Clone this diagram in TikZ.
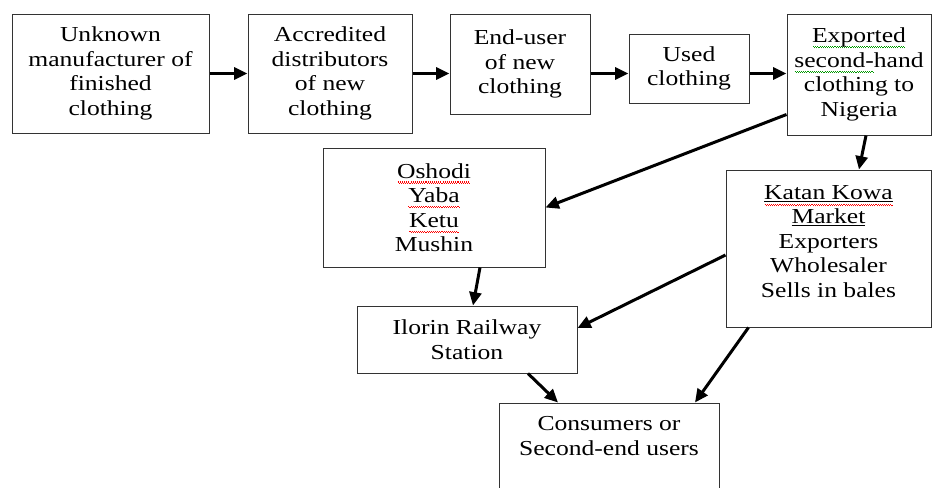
\documentclass[tikz,border=0pt]{standalone}
\usepackage{fontspec}
\setmainfont[FakeStretch=1.2]{Liberation Serif}
\usetikzlibrary{arrows.meta}

\newcommand\wavepiece{\vrule height -2.6pt depth 3.4pt width 0.8pt\vrule height -3.4pt depth 4.2pt width 0.8pt}
\newcommand\wavemark[2]{\leavevmode\setbox0\hbox{#2}\rlap{\hbox to \wd0{\color{#1}\cleaders\hbox{\wavepiece}\hfil}}\box0}
\newcommand\katanmark[1]{\leavevmode\setbox0\hbox{#1}\rlap{\vrule height -1.1pt depth 1.8pt width \wd0}\rlap{\lower1.2pt\hbox to \wd0{\color{red}\cleaders\hbox{\wavepiece}\hfil}}\box0}

\begin{document}
\begin{tikzpicture}
    [
        x=0.75pt, y=-0.75pt,
        box_node/.style={rectangle, draw=black!80, line width=0.75pt, fill=white, align=center, inner sep=2pt, font=\fontsize{16}{18.4}\selectfont},
        box_text/.style={align=center, inner sep=2pt, font=\fontsize{16}{18.4}\selectfont},
        flow_arrow/.style={-{Triangle[length=10pt, width=9pt]}, line width=2.25pt, color=black},
    ]
        \useasboundingbox (0,0) rectangle (933,487) ;
        \clip (0,0) rectangle (933,487) ;
        % top row
        \node[box_node, minimum width=147.75pt, minimum height=89.25pt] (manuf) at (110.5,73.5) {Unknown\\manufacturer of\\finished\\clothing} ;
        \node[box_node, minimum width=123pt, minimum height=89.25pt] (distrib) at (330,73.5) {Accredited\\distributors\\of new\\clothing} ;
        \node[box_node, minimum width=105pt, minimum height=75pt] (enduser) at (520,64) {End-user\\of new\\clothing} ;
        \node[box_node, minimum width=90pt, minimum height=51.75pt] (used) at (689,68.5) {Used\\clothing} ;
        \node[box_node, minimum width=108pt, minimum height=90.75pt] (exported) at (859,74.5) {\wavemark{green!60!black}{Exported}\\\wavemark{green!60!black}{second-}hand\\clothing to\\Nigeria} ;
        % markets in Nigeria
        \node[box_node, minimum width=166.5pt, minimum height=89.25pt] (lagos) at (434,207.5) {\wavemark{red}{Oshodi}\\\wavemark{red}{Yaba}\\\wavemark{red}{Ketu}\\Mushin} ;
        \node[box_node, minimum width=153.75pt, minimum height=117.75pt] (katan) at (828.5,248.5) {} ;
        \node[box_text, anchor=north] (katan_text) at ([yshift=-9.5pt]katan.north) {\katanmark{Katan Kowa}\\\underline{Market}\\Exporters\\Wholesaler\\Sells in bales} ;
        \node[box_node, minimum width=165pt, minimum height=50.25pt] (ilorin) at (467,339.5) {Ilorin Railway\\Station} ;
        \node[box_node, minimum width=165pt, minimum height=95.25pt] (consumers) at (609,466.5) {} ;
        \node[box_text, anchor=north] (consumers_text) at ([yshift=-8.5pt]consumers.north) {Consumers or\\Second-end users} ;
        % flows
        \draw[flow_arrow] (manuf) -- (distrib) ;
        \draw[flow_arrow] (distrib) -- (enduser.west |- distrib) ;
        \draw[flow_arrow] (enduser.east |- distrib) -- (used.west |- distrib) ;
        \draw[flow_arrow] (used.east |- distrib) -- (exported.west |- distrib) ;
        \draw[flow_arrow] ([yshift=15.75pt]exported.south west) -- (lagos.east) ;
        \draw[flow_arrow] ([xshift=5.25pt]exported.south) -- (exported.south |- katan.north) ;
        \draw[flow_arrow] ([xshift=34.5pt]lagos.south) -- ([xshift=4.5pt]ilorin.north) ;
        \draw[flow_arrow] ([yshift=-4.9pt]katan.west) -- ([yshift=8.6pt]ilorin.east) ;
        \draw[flow_arrow] ([xshift=17.25pt]katan.south west) -- ([xshift=64.5pt]consumers.north) ;
        \draw[flow_arrow] ([xshift=45.75pt]ilorin.south) -- ([xshift=-38.25pt]consumers.north) ;
    \end{tikzpicture}
\end{document}
